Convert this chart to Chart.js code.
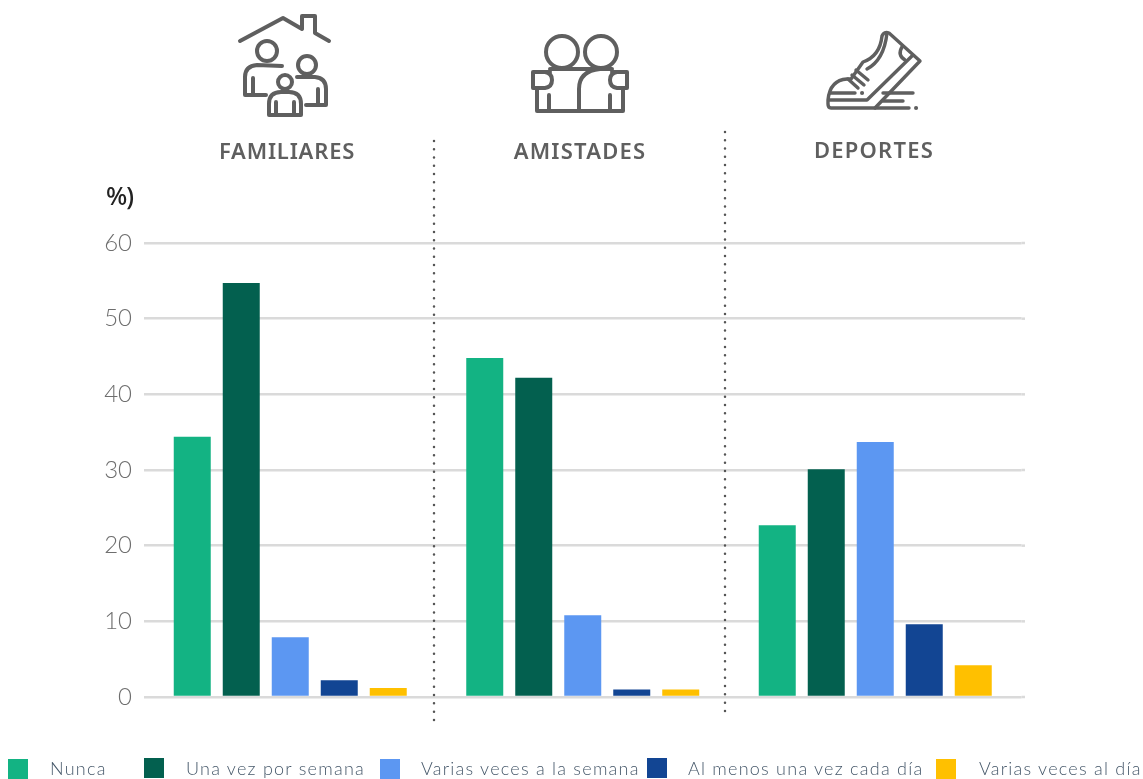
<!DOCTYPE html>
<html lang="es">
<head>
<meta charset="utf-8">
<title>Frecuencia</title>
<script src="https://cdn.jsdelivr.net/npm/chart.js@4/dist/chart.umd.min.js"></script>
<style>
  html, body { margin: 0; background: #fff; }
  #wrap { position: relative; width: 1143px; height: 779px; overflow: hidden; }
  canvas { position: absolute; left: 0; top: 0; }
  svg { position: absolute; left: 0; top: 0; }
  .titulo { position: absolute; transform: translateX(-50%); font: 600 22px "Noto Sans", sans-serif; color: #5f5f5f; letter-spacing: 1.2px; white-space: nowrap; }
  #unidad { position: absolute; left: 106px; top: 178px; font: 500 25px "Noto Sans", sans-serif; color: #222; letter-spacing: -1px; }
  .caja { position: absolute; width: 20px; height: 20px; }
  .rotulo { position: absolute; top: 757px; font: 300 18px Lato, sans-serif; color: #46586a; letter-spacing: 1.24px; white-space: nowrap; }
</style>
</head>
<body>
<div id="wrap">
  <canvas id="grafico" width="1143" height="779"></canvas>
  <svg width="1143" height="140" fill="none" stroke="#5f5f5f" stroke-width="4" stroke-linecap="round" stroke-linejoin="round">
    <!-- familiares -->
    <path d="M240 41L283 18L302 29V16H315V33L329 41"/>
    <circle cx="267" cy="51" r="10"/>
    <path d="M282 66L257 65Q245 66 245 77V95H266M253 78V95"/>
    <circle cx="307" cy="65" r="9"/>
    <path d="M297 77H315Q326 78 326 89V105H306M318 89V105"/>
    <circle cx="285" cy="82" r="7"/>
    <path d="M269 115V104Q269 92 281 92H289Q301 92 301 104V115ZM276 102V115M294 102V115"/>
    <!-- amistades -->
    <circle cx="562" cy="52" r="16"/>
    <circle cx="601" cy="52" r="16"/>
    <path d="M550 69H612M550 72H533V88H545Q552 87 552 80T545 72M612 72H627V88H617Q610 87 610 80T617 72"/>
    <path d="M537 88V111H623V88M549 95V111M610 95V111M579 111V89Q579 71 600 69"/>
    <!-- deportes -->
    <g stroke-width="3.4">
      <path d="M828 100Q830 80 847 79H851L863 62Q880 56 882 36Q884 31 889 33L920 61L875 108H831Q828 108 828 104V100H867L913 55"/>
      <path d="M887 33Q884 60 867 69M902 47Q897 55 905 60M856 70L868 80M852 75L864 85M848 79L858 88"/>
      <path d="M830 93H855M883 93H913M883 101H903M875 108H909"/>
      <path d="M862 93H862.1M916 108H916.1" stroke-width="4"/>
    </g>
  </svg>
  <div class="titulo" style="left:287px;top:135px;letter-spacing:0.8px">FAMILIARES</div>
  <div class="titulo" style="left:580px;top:135px">AMISTADES</div>
  <div class="titulo" style="left:874px;top:134px">DEPORTES</div>
  <div id="unidad">%)</div>
  <div id="leyenda"></div>
</div>
<script>
// Datos
const categorias = ['FAMILIARES', 'AMISTADES', 'DEPORTES'];
const nombres = ['Nunca', 'Una vez por semana', 'Varias veces a la semana', 'Al menos una vez cada día', 'Varias veces al día'];
const nunca = [34.4, 44.8, 22.7];
const unaVez = [54.7, 42.2, 30.1];
const variasSemana = [7.9, 10.8, 33.7];
const alMenos = [2.2, 1.0, 9.6];
const variasDia = [1.2, 1.0, 4.2];
const ticks = [0, 10, 20, 30, 40, 50, 60];

const colores = ['#13b383', '#03604f', '#5c97f2', '#124593', '#ffc000'];
const series = [nunca, unaVez, variasSemana, alMenos, variasDia];

// Leyenda, con las posiciones del original
const cajasX = [8, 144, 380, 647, 936];
const textosX = [50, 186, 421, 688, 979];
const leyenda = document.getElementById('leyenda');
nombres.forEach((n, i) => {
    const caja = document.createElement('div');
    caja.className = 'caja';
    caja.style.left = cajasX[i] + 'px';
    caja.style.top = (i === 1 || i === 3 ? 758 : 759) + 'px';
    caja.style.background = colores[i];
    leyenda.appendChild(caja);
    const rotulo = document.createElement('div');
    rotulo.className = 'rotulo';
    rotulo.style.left = textosX[i] + 'px';
    rotulo.textContent = n;
    leyenda.appendChild(rotulo);
});

// Resto de las líneas de la rejilla y separadores punteados
const extras = {
    id: 'extras',
    beforeDatasetsDraw(chart) {
        const c = chart.ctx, y = chart.scales.y, a = chart.chartArea;
        c.save();
        c.strokeStyle = '#dadada';
        c.lineWidth = 2.5;
        ticks.forEach(t => {
            c.beginPath();
            c.moveTo(a.right, y.getPixelForValue(t));
            c.lineTo(1025, y.getPixelForValue(t));
            c.stroke();
        });
        c.restore();
    },
    afterDraw(chart) {
        const c = chart.ctx;
        c.save();
        c.strokeStyle = '#555';
        c.lineWidth = 2.5;
        c.lineCap = 'round';
        c.setLineDash([0, 8.27]);
        [[434, 141, 720.5], [725, 132, 712]].forEach(s => {
            c.beginPath();
            c.moveTo(s[0], s[1]);
            c.lineTo(s[0], s[2]);
            c.stroke();
        });
        c.restore();
    }
};

new Chart(document.getElementById('grafico'), {
    type: 'bar',
    data: {
        labels: categorias,
        datasets: nombres.map((n, i) => ({
            label: n,
            data: series[i],
            backgroundColor: colores[i],
            borderWidth: 0,
            categoryPercentage: 0.8376,
            barPercentage: 0.755
        }))
    },
    options: {
        responsive: false,
        animation: false,
        layout: { padding: { top: 243, bottom: 82, right: 121.5, left: 0 } },
        plugins: {
            legend: { display: false },
            title: { display: false },
            tooltip: { enabled: false }
        },
        scales: {
            x: {
                display: false
            },
            y: {
                min: 0,
                max: 60,
                afterFit(s) { s.width = 144; },
                ticks: {
                    stepSize: 10,
                    padding: 12,
                    color: '#6e6e6e',
                    font: { family: 'Lato', size: 24, weight: '300' }
                },
                grid: { color: '#dadada', lineWidth: 2.5, drawTicks: false },
                border: { display: false }
            }
        }
    },
    plugins: [extras]
});
</script>
</body>
</html>
